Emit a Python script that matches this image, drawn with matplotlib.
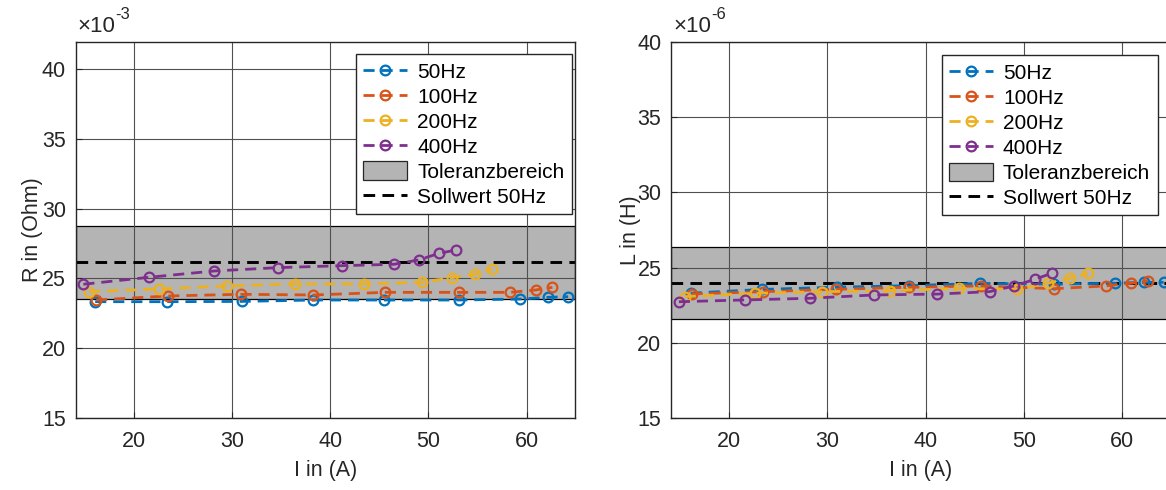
import matplotlib
matplotlib.use("Agg")
import matplotlib.pyplot as plt
from matplotlib.patches import Patch
from matplotlib.lines import Line2D

plt.rcParams['font.family'] = ['Liberation Sans', 'DejaVu Sans']

# ---- data ----
freq_labels = ['50Hz', '100Hz', '200Hz', '400Hz']
colors = ['#0072BD', '#D95319', '#EDB120', '#7E2F8E']

I_50 = [16.1, 23.4, 31.0, 38.3, 45.5, 53.1, 59.3, 62.2, 64.2]
I_100 = [16.2, 23.5, 30.9, 38.3, 45.6, 53.1, 58.3, 60.9, 62.6]
I_200 = [15.5, 22.6, 29.5, 36.4, 43.4, 49.3, 52.4, 54.7, 56.5]
I_400 = [14.9, 21.6, 28.2, 34.7, 41.2, 46.5, 49.0, 51.1, 52.8]

R_50 = [23.33, 23.33, 23.35, 23.45, 23.45, 23.45, 23.52, 23.64, 23.69]
R_100 = [23.45, 23.74, 23.86, 23.81, 24.0, 24.0, 24.0, 24.17, 24.36]
R_200 = [24.05, 24.24, 24.46, 24.6, 24.6, 24.72, 25.05, 25.29, 25.67]
R_400 = [24.58, 25.08, 25.53, 25.77, 25.91, 26.01, 26.32, 26.8, 27.03]

L_50 = [23.3, 23.55, 23.7, 23.8, 23.95, 23.9, 23.96, 24.02, 24.02]
L_100 = [23.25, 23.4, 23.56, 23.69, 23.78, 23.6, 23.78, 23.96, 24.13]
L_200 = [23.07, 23.29, 23.4, 23.46, 23.62, 23.56, 23.96, 24.29, 24.62]
L_400 = [22.73, 22.85, 22.96, 23.18, 23.24, 23.4, 23.78, 24.22, 24.62]

R_soll = 26.17
L_soll = 24.0
tol = 0.10

x_ticks = [20, 30, 40, 50, 60]
y_ticks = [15, 20, 25, 30, 35, 40]

I_all = [I_50, I_100, I_200, I_400]
R_all = [R_50, R_100, R_200, R_400]
L_all = [L_50, L_100, L_200, L_400]

W, H = 1166, 490
fig = plt.figure(figsize=(W / 100, H / 100), dpi=100)

ax_w = 499.5 / W
ax_h = 376 / H
ax_b = (H - 418) / H
ax1 = fig.add_axes([75.5 / W, ax_b, ax_w, ax_h])
ax2 = fig.add_axes([671 / W, ax_b, ax_w, ax_h])

FS = 15.5
TXT = '#262626'
DASH = (0, (4, 2.5))


def draw(ax, Ys, soll, ylim, ylabel, expo, label_x, leg_anchor):
    xlim = (14.1, 64.9)
    lo, hi = soll * (1 - tol), soll * (1 + tol)
    ax.fill_between(xlim, [lo, lo], [hi, hi], facecolor='#B4B4B4',
                    edgecolor='black', linewidth=0.9, zorder=1)
    for I, Y, c in zip(I_all, Ys, colors):
        ax.plot(I, Y, linestyle=DASH, color=c, linewidth=2,
                marker='o', markersize=7, markerfacecolor='none',
                markeredgewidth=1.6, zorder=4)
    ax.plot(xlim, [soll, soll], color='black', linestyle=DASH,
            linewidth=2.1, zorder=3)
    ax.set_xlim(*xlim)
    ax.set_ylim(*ylim)
    ax.set_xticks(x_ticks)
    ax.set_yticks(y_ticks)
    ax.grid(True, color='#505050', linewidth=0.8)
    ax.set_axisbelow(False)
    for g in ax.get_xgridlines() + ax.get_ygridlines():
        g.set_zorder(2)
    ax.tick_params(direction='in', length=4, width=0.8, labelsize=FS,
                   colors=TXT, pad=7)
    ax.tick_params(axis='x', pad=9)
    for s in ax.spines.values():
        s.set_color(TXT)
        s.set_linewidth(1.0)
        s.set_zorder(5)
    ax.set_xlabel('I in (A)', fontsize=FS, color=TXT, labelpad=6)
    ax.set_ylabel(ylabel, fontsize=FS, color=TXT)
    ax.yaxis.set_label_coords(label_x, 0.5)
    t = ax.text(0.004, 1.014, '\u00d710', transform=ax.transAxes,
                fontsize=16, color=TXT, ha='left', va='bottom')
    ax.annotate(expo, xy=(1.0, 0.72), xycoords=t, fontsize=12,
                color=TXT, ha='left', va='bottom')

    handles = []
    for lab, c in zip(freq_labels, colors):
        handles.append(Line2D([], [], color=c, linestyle=DASH,
                              linewidth=2, marker='o', markersize=7,
                              markerfacecolor='none', markeredgewidth=1.6,
                              label=lab))
    handles.append(Patch(facecolor='#B4B4B4', edgecolor=TXT,
                         linewidth=0.9, label='Toleranzbereich'))
    handles.append(Line2D([], [], color='black', linestyle=DASH,
                          linewidth=2.1, label='Sollwert 50Hz'))
    leg = ax.legend(handles=handles, loc='upper right',
                    bbox_to_anchor=leg_anchor, borderaxespad=0,
                    fontsize=15, frameon=True, fancybox=False,
                    framealpha=1, edgecolor=TXT, handlelength=2.1,
                    handleheight=1.0, handletextpad=0.5,
                    labelspacing=0.22, borderpad=0.35)
    leg.get_frame().set_linewidth(1.0)
    leg.set_zorder(10)


draw(ax1, R_all, R_soll, (15, 41.93), 'R in (Ohm)', '-3', -0.065, (0.994, 0.968))
draw(ax2, L_all, L_soll, (15, 40), 'L in (H)', '-6', -0.060, (0.974, 0.965))

fig.savefig('out.png', dpi=100)
